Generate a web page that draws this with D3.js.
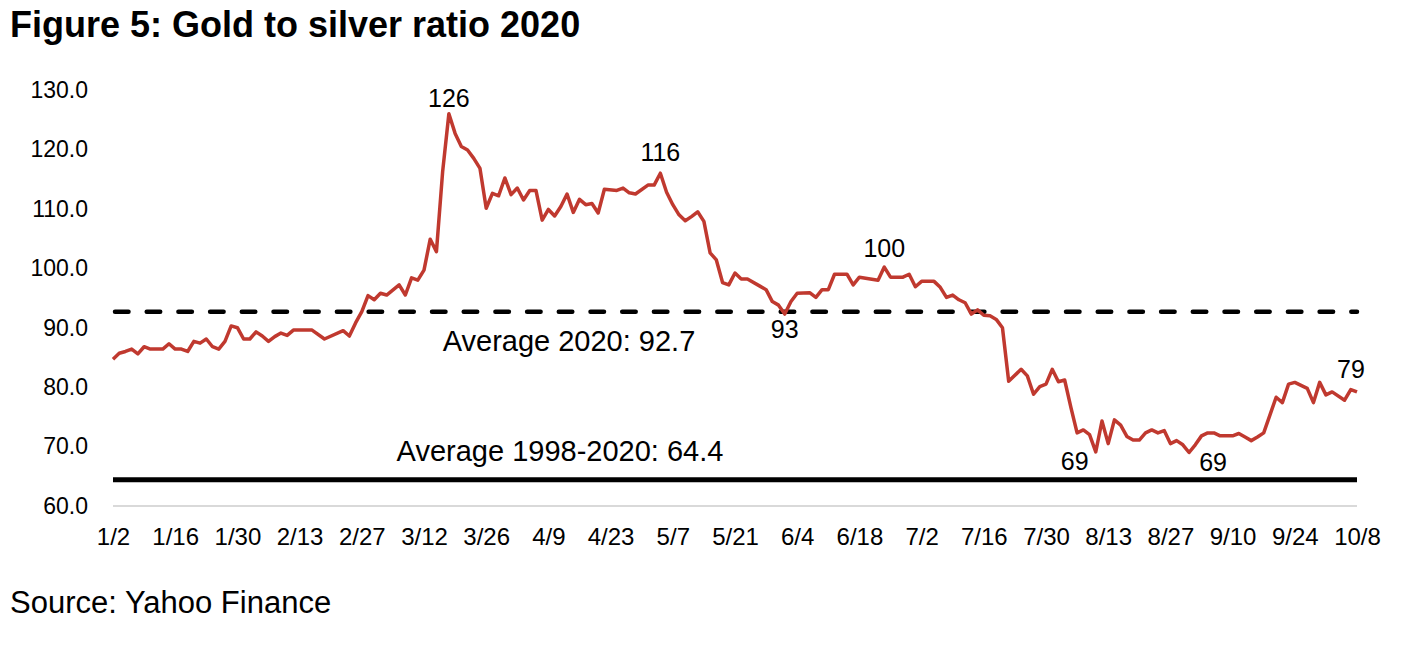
<!DOCTYPE html>
<html>
<head>
<meta charset="utf-8">
<script src="https://cdn.jsdelivr.net/npm/d3@7"></script>
<style>
  body { margin: 0; background: #fff; }
  text { font-family: "Liberation Sans", Arial, sans-serif; fill: #000; }
</style>
</head>
<body>
<div id="chart"></div>
<script>
// weekday number counted from 1/2 (0) to 10/8 (200)
const day = [0, 1, 2, 3, 4, 5, 6, 8, 9, 10, 11, 12, 13, 14, 15, 16, 17, 18, 19, 20,
  21, 22, 23, 24, 25, 26, 27, 28, 29, 32, 34, 37, 38, 39, 40, 41, 42, 43, 44, 46,
  47, 48, 49, 50, 51, 52, 53, 54, 55, 56, 57, 58, 59, 60, 61, 62, 63, 64, 65, 66,
  67, 68, 69, 70, 71, 72, 73, 74, 75, 76, 77, 78, 79, 81, 82, 83, 84, 86, 87, 88,
  89, 90, 91, 92, 93, 94, 95, 96, 97, 98, 99, 100, 101, 102, 104, 105, 106, 107, 108, 109,
  110, 112, 113, 114, 115, 116, 118, 119, 120, 123, 124, 125, 127, 128, 129, 130, 132, 133, 134, 135,
  136, 137, 138, 139, 140, 141, 142, 143, 144, 146, 147, 148, 149, 150, 151, 152, 153, 154, 155, 156,
  157, 158, 159, 160, 161, 162, 163, 164, 165, 166, 167, 168, 169, 170, 171, 172, 173, 174, 175, 176,
  177, 178, 180, 181, 182, 183, 184, 185, 187, 188, 189, 190, 192, 193, 194, 195, 196, 198, 199, 200];

const ratio = [84.7, 85.7, 86.0, 86.4, 85.6, 86.8, 86.4, 86.4, 87.3, 86.4, 86.4, 86.0, 87.7, 87.4, 88.1, 86.8, 86.4, 87.7, 90.3, 90.0,
  88.1, 88.1, 89.3, 88.6, 87.7, 88.5, 89.1, 88.7, 89.6, 89.6, 88.1, 89.5, 88.6, 90.8, 92.7, 95.4, 94.7, 95.8, 95.5, 97.2,
  95.5, 98.4, 98.0, 99.7, 104.9, 102.8, 116.3, 126.0, 122.7, 120.5, 119.9, 118.5, 116.8, 110.1, 112.6, 112.2, 115.2, 112.4, 113.5, 111.5,
  113.1, 113.1, 108.1, 109.9, 108.8, 110.4, 112.5, 109.4, 111.6, 110.7, 110.9, 109.3, 113.3, 113.1, 113.5, 112.7, 112.5, 114.0, 114.0, 116.0,
  112.8, 110.7, 109.0, 108.0, 108.7, 109.5, 107.9, 102.6, 101.4, 97.6, 97.2, 99.2, 98.2, 98.2, 97.0, 96.4, 94.4, 93.8, 92.3, 94.4,
  95.8, 95.9, 95.1, 96.4, 96.4, 99.0, 99.0, 97.2, 98.5, 98.0, 100.2, 98.5, 98.5, 99.0, 96.9, 97.8, 97.8, 96.8, 95.1, 95.5,
  94.7, 94.2, 92.3, 93.0, 92.1, 92.0, 91.4, 90.0, 81.0, 83.0, 81.9, 78.8, 80.1, 80.5, 83.0, 80.9, 81.2, 76.6, 72.3, 72.8,
  72.0, 69.1, 74.3, 70.5, 74.5, 73.6, 71.7, 71.1, 71.1, 72.3, 72.8, 72.3, 72.7, 70.5, 71.0, 70.3, 69.0, 70.3, 71.8, 72.3,
  72.3, 71.8, 71.8, 72.2, 71.6, 71.0, 71.6, 72.3, 78.3, 77.4, 80.5, 80.8, 79.8, 77.4, 80.8, 78.7, 79.2, 77.8, 79.6, 79.2];

const tickDays = d3.range(0, 201, 10);
const tickLabels = ["1/2", "1/16", "1/30", "2/13", "2/27", "3/12", "3/26", "4/9", "4/23", "5/7", "5/21",
  "6/4", "6/18", "7/2", "7/16", "7/30", "8/13", "8/27", "9/10", "9/24", "10/8"];
const yTicks = [60, 70, 80, 90, 100, 110, 120, 130];

const avg2020 = 92.7;
const avgLong = 64.4;

// point labels: [weekday number, value at point, text]
const callouts = [[54, 126.0, "126"], [88, 116.0, "116"], [124, 100.2, "100"], [108, 92.3, "93"],
  [158, 69.1, "69"], [173, 69.0, "69"], [200, 79.2, "79"]];
// label shift from its point, in px
const calloutShift = [[0, -7], [0, -12], [0, -10], [0, 24], [-21, 18], [24, 18], [-6, -14]];

const width = 1402, height = 650;
const margin = { top: 90, left: 113, bottom: 144, right: 45 };

const x = d3.scaleLinear().domain([0, 200]).range([margin.left, width - margin.right]);
const y = d3.scaleLinear().domain([60, 130]).range([height - margin.bottom, margin.top]);

const svg = d3.select('#chart').append('svg')
  .attr('width', width)
  .attr('height', height);

// title
svg.append('text')
  .attr('x', 10).attr('y', 37)
  .style('font-size', '36px').style('font-weight', 'bold')
  .text('Figure 5: Gold to silver ratio 2020');

// y axis
const yAxis = g => g
  .attr('transform', `translate(${margin.left},0)`)
  .call(d3.axisLeft(y).tickValues(yTicks).tickFormat(d3.format('.1f')).tickSize(0).tickPadding(25))
  .call(g => g.select('.domain').remove())
  .call(g => g.selectAll('text').style('font-size', '23px').attr('font-family', null));
svg.append('g').call(yAxis);

// x axis
const xAxis = g => g
  .attr('transform', `translate(0,${y(60)})`)
  .call(d3.axisBottom(x).tickValues(tickDays).tickFormat((d, i) => tickLabels[i]).tickSize(0).tickPadding(22))
  .call(g => g.select('.domain').remove())
  .call(g => g.selectAll('text').style('font-size', '24px').attr('font-family', null));
svg.append('g').call(xAxis);

// base line at 60
svg.append('line')
  .attr('x1', x(0)).attr('x2', x(200))
  .attr('y1', y(60)).attr('y2', y(60))
  .attr('stroke', '#d9d9d9').attr('stroke-width', 2);

// long-run average
svg.append('line')
  .attr('x1', x(0)).attr('x2', x(200))
  .attr('y1', y(avgLong)).attr('y2', y(avgLong))
  .attr('stroke', '#000').attr('stroke-width', 5);

// 2020 average
svg.append('line')
  .attr('x1', x(0) + 2).attr('x2', x(200))
  .attr('y1', y(avg2020)).attr('y2', y(avg2020))
  .attr('stroke', '#000').attr('stroke-width', 4.5)
  .attr('stroke-linecap', 'round')
  .attr('stroke-dasharray', '13.5,18.2');

// ratio line
const line = d3.line()
  .x((d, i) => x(day[i]))
  .y(d => y(d));
svg.append('path')
  .datum(ratio)
  .attr('fill', 'none')
  .attr('stroke', '#c0392f')
  .attr('stroke-width', 3.5)
  .attr('stroke-linejoin', 'round')
  .attr('d', line);

// average labels
svg.append('text')
  .attr('x', 569).attr('y', y(avg2020) + 39)
  .attr('text-anchor', 'middle')
  .style('font-size', '29px')
  .text('Average 2020: 92.7');
svg.append('text')
  .attr('x', 560).attr('y', y(avgLong) - 19)
  .attr('text-anchor', 'middle')
  .style('font-size', '29px')
  .text('Average 1998-2020: 64.4');

// callouts
svg.selectAll('text.callout')
  .data(callouts)
  .join('text')
  .attr('class', 'callout')
  .attr('text-anchor', 'middle')
  .style('font-size', '25px')
  .attr('x', (d, i) => x(d[0]) + calloutShift[i][0])
  .attr('y', (d, i) => y(d[1]) + calloutShift[i][1])
  .text(d => d[2]);

// source
svg.append('text')
  .attr('x', 10).attr('y', 613)
  .style('font-size', '31px')
  .text('Source: Yahoo Finance');
</script>
</body>
</html>
